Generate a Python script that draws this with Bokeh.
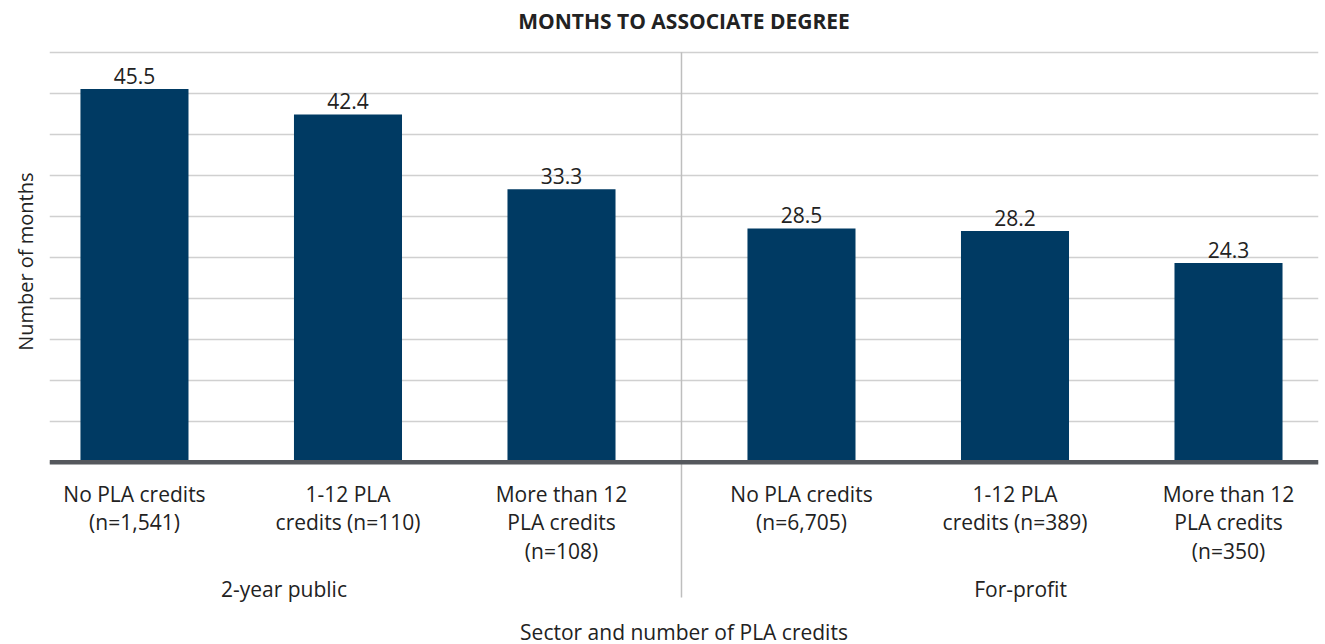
import numpy as np
from bokeh.plotting import figure
from bokeh.models import Range1d, FixedTicker, Span, ColumnDataSource, Title
from bokeh.core.properties import value
from bokeh.embed import file_html
from bokeh.resources import INLINE

# ---- data ----
categories = [
    "No PLA credits\n(n=1,541)",
    "1-12 PLA\ncredits (n=110)",
    "More than 12\nPLA credits\n(n=108)",
    "No PLA credits\n(n=6,705)",
    "1-12 PLA\ncredits (n=389)",
    "More than 12\nPLA credits\n(n=350)",
]
sectors = ["2-year public", "2-year public", "2-year public",
           "For-profit", "For-profit", "For-profit"]
sector_names = ["2-year public", "For-profit"]
months = [45.5, 42.4, 33.3, 28.5, 28.2, 24.3]
y_ticks = [0, 5, 10, 15, 20, 25, 30, 35, 40, 45, 50]

title_text = "MONTHS TO ASSOCIATE DEGREE"
y_title = "Number of months"
x_title = "Sector and number of PLA credits"

# ---- layout helpers ----
FONT = "Open Sans"
BAR = "#003A63"
TXT = "#222222"
GAP = 0.124
grp = np.array([sector_names.index(s) for s in sectors])
xpos = np.arange(len(categories)) + GAP * grp
x0, x1 = -0.398, xpos[-1] + 0.4215
px_per_unit = 8.2
y_top = 50 + 51.7 / px_per_unit
y_bot = -(644 - 461.7) / px_per_unit

def py(page_y):
    return (461.7 - page_y) / px_per_unit

p = figure(width=1325, height=644, output_backend="svg", toolbar_location=None,
           x_range=Range1d(x0, x1), y_range=Range1d(y_bot, y_top),
           x_axis_location=None, y_axis_location=None,
           min_border_left=49, min_border_right=7, min_border_top=0, min_border_bottom=0)
p.outline_line_color = None
p.background_fill_color = "white"
p.border_fill_color = "white"

# y-axis title (vertical, placed on the left side)
p.add_layout(Title(text=y_title, align="right", offset=172, vertical_align="middle",
                   standoff=0, padding=(19, 0, 0, 0),
                   text_font=FONT, text_font_size="20px", text_font_style="normal",
                   text_color=TXT), "left")

p.xgrid.visible = False
p.ygrid.ticker = FixedTicker(ticks=y_ticks)
p.ygrid.grid_line_color = "#D0D0D0"
p.ygrid.grid_line_width = 1.6

src = ColumnDataSource(dict(x=xpos, top=months, cat=categories,
                            ly=np.array(months) + 1.6,
                            lab=[f"{v:.1f}" for v in months]))

p.vbar(x="x", top="top", bottom=0, width=0.506, source=src,
       fill_color=BAR, line_color=None)

# baseline
p.add_layout(Span(location=0, dimension="width", line_color="#55585D", line_width=4.5))

# group divider
div_x = (xpos[2] + xpos[3]) / 2
p.segment(x0=[div_x], y0=[py(597)], x1=[div_x], y1=[50],
          line_color="#BEBEBE", line_width=1.5)

# value labels
p.text(x="x", y="ly", text="lab", source=src,
       text_font=value(FONT), text_font_size="21px", text_color=TXT,
       text_align="center", text_baseline="middle")

# category labels
p.text(x="x", y=py(479), text="cat", source=src,
       text_font=value(FONT), text_font_size="21px", text_color=TXT,
       text_align="center", text_baseline="top", text_line_height=1.03)

# group labels
gx = [0.70, 4.15]
p.text(x=gx, y=[py(588)] * 2, text=sector_names,
       text_font=value(FONT), text_font_size="21px", text_color=TXT,
       text_align="center", text_baseline="middle")

# axis title
p.text(x=[(x0 + x1) / 2], y=[py(631)], text=[x_title],
       text_font=value(FONT), text_font_size="21px", text_color=TXT,
       text_align="center", text_baseline="middle")

# chart title
p.text(x=[(x0 + x1) / 2], y=[py(20)], text=[title_text],
       text_font=value(FONT), text_font_size="21px", text_font_style="bold",
       text_color=TXT, text_align="center", text_baseline="middle")

open("out.html", "w").write(file_html(p, INLINE))
